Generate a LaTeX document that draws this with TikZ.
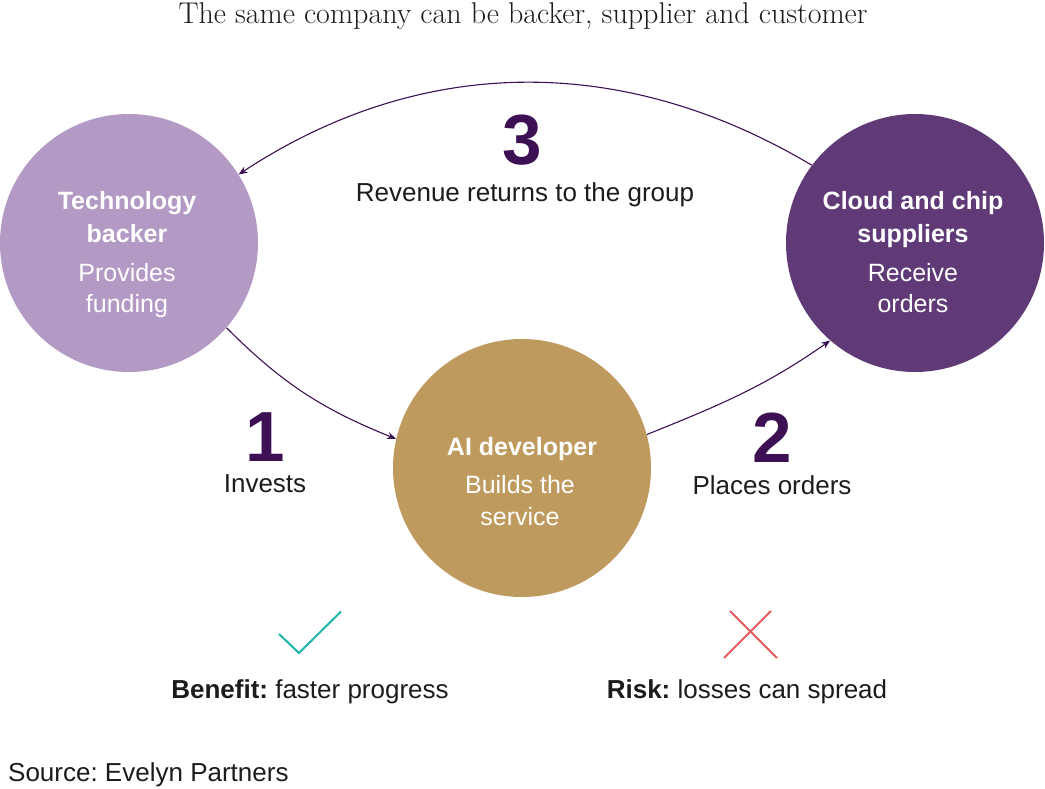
\documentclass[tikz,border=0pt]{standalone}
\usepackage{fontspec}
\setsansfont{Liberation Sans}
\usetikzlibrary{arrows.meta}
\definecolor{techc}{HTML}{B39AC5}
\definecolor{cloudc}{HTML}{5F3A77}
\definecolor{aic}{HTML}{BF9A5F}
\definecolor{numc}{HTML}{3C1053}
\definecolor{txt}{HTML}{1C1C1C}
\definecolor{okc}{HTML}{1BB5AD}
\definecolor{badc}{HTML}{E8595A}
\frenchspacing
\begin{document}
\begin{tikzpicture}[x=1pt,y=-1pt,
  bubble/.style={circle, minimum size=258pt, inner sep=0pt, draw=none},
  head/.style={font=\sffamily\bfseries\fontsize{25}{28}\selectfont, text=white, anchor=base, inner sep=0pt},
  sub/.style={font=\sffamily\fontsize{25}{28}\selectfont, text=white, anchor=base, inner sep=0pt},
  num/.style={font=\sffamily\bfseries\fontsize{71}{80}\selectfont, text=numc, anchor=base, inner sep=0pt},
  lbl/.style={font=\sffamily\fontsize{26}{30}\selectfont, text=txt, anchor=base, inner sep=0pt},
  flow/.style={draw=numc, line width=1.1pt, -{Stealth[length=9pt,width=7pt]}},
  markline/.style={line width=2pt}]
\useasboundingbox (0,0) rectangle (1045,789);

% title
\node[font=\rmfamily\fontsize{30}{34}\selectfont, text=txt, anchor=base, inner sep=0pt] (title) at (523,24) {The same company can be backer, supplier and customer};

% circles
\node[bubble, fill=techc] (tech) at (129,243) {};
\node[bubble, fill=cloudc] (cloud) at (915,243) {};
\node[bubble, fill=aic] (ai) at (522,468) {};

% circle texts
\node[head] (t1) at (127,210) {Technology};
\node[head] (t2) at (127,242) {backer};
\node[sub]  (t3) at (127,281) {Provides};
\node[sub]  (t4) at (127,312) {funding};

\node[head] (c1) at (913,210) {Cloud and chip};
\node[head] (c2) at (913,242) {suppliers};
\node[sub]  (c3) at (913,281) {Receive};
\node[sub]  (c4) at (913,312) {orders};

\node[head] (a1) at (522,455) {AI developer};
\node[sub]  (a2) at (520,493) {Builds the};
\node[sub]  (a3) at (520,525) {service};

% connectors
\draw[flow] (cloud.143) .. controls (622,52) and (420,55) .. (tech.32);
\draw[flow] (tech.-41) to[out=-45, in=158] (ai.167);
\draw[flow] (ai.15) to[out=22, in=-145] (cloud.-131);

% step labels
\node[num] (n3) at (522,165) {3};
\node[lbl] (l3) at (525,202) {Revenue returns to the group};
\node[num] (n1) at (265,461) {1};
\node[lbl] (l1) at (265,492) {Invests};
\node[num] (n2) at (772,462) {2};
\node[lbl] (l2) at (772,494) {Places orders};

% benefit / risk marks
\draw[okc, markline, line join=miter] (279,634) -- (299,653) -- (341,611.5);
\draw[badc, markline] (730,611) -- (777,658);
\draw[badc, markline] (771,611) -- (724,658);

\node[lbl] (ben) at (310,698) {\textbf{Benefit:} faster progress};
\node[lbl] (risk) at (747,698) {\textbf{Risk:} losses can spread};

\node[lbl, anchor=base west] (src) at (8,781) {Source: Evelyn Partners};
\end{tikzpicture}
\end{document}
